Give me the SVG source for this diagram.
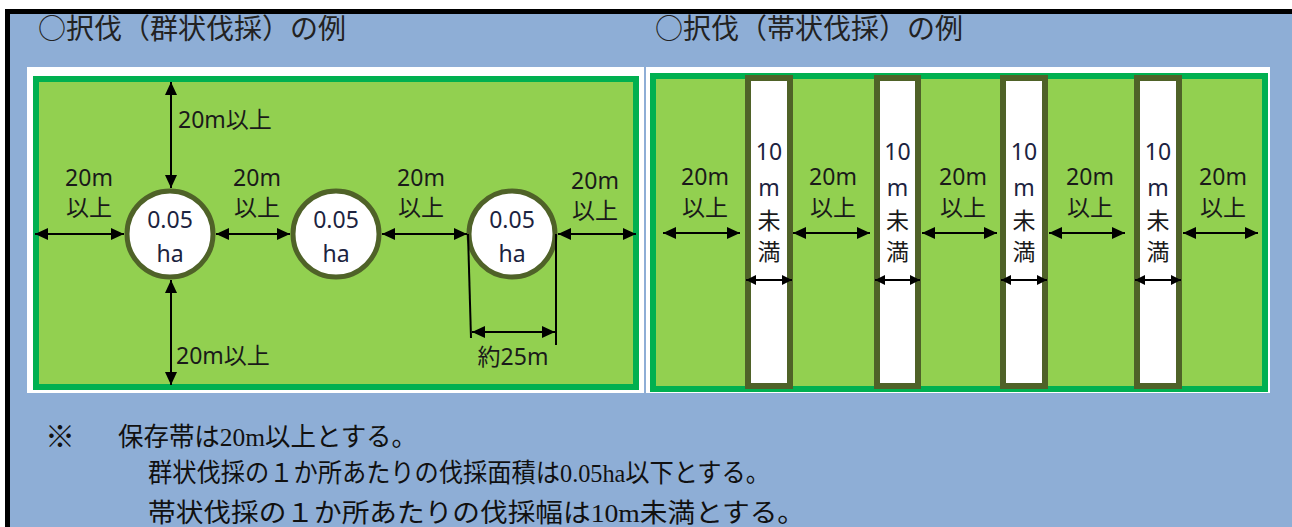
<svg xmlns="http://www.w3.org/2000/svg" width="1292" height="527" viewBox="0 0 1292 527">
<style>
.hdr{font-family:"Noto Sans CJK JP","Noto Sans",sans-serif;font-size:28px;fill:#222}
.lbl{font-family:"Noto Sans","Noto Sans CJK JP",sans-serif;font-size:23px;fill:#1a1a1a;text-anchor:middle}
.lbs{font-family:"Noto Sans","Noto Sans CJK JP",sans-serif;font-size:23px;fill:#1a1a1a}
.num{font-family:"Noto Sans","Noto Sans CJK JP",sans-serif;font-size:23px;fill:#1c2340;text-anchor:middle}
.note{font-family:"Liberation Serif","Noto Sans CJK JP",serif;font-size:26px;fill:#111}
.field{fill:#92d050;stroke:#00b050;stroke-width:6}
.cut{fill:#ffffff;stroke:#4f6228;stroke-width:5}
.strip{fill:#ffffff;stroke:#4f6228;stroke-width:6}
.arr{stroke:#000;stroke-width:2;fill:none;marker-start:url(#ah);marker-end:url(#ah)}
.arrs{stroke:#000;stroke-width:2;fill:none;marker-start:url(#ahs);marker-end:url(#ahs)}
.dim{stroke:#000;stroke-width:2;fill:none}
</style>
<defs>
<marker id="ah" viewBox="0 0 13 12" refX="13" refY="6" markerWidth="13" markerHeight="12" orient="auto-start-reverse" markerUnits="userSpaceOnUse"><path d="M0,0 L13,6 L0,12 z" fill="#000"/></marker>
<marker id="ahs" viewBox="0 0 10 10" refX="10" refY="5" markerWidth="10" markerHeight="10" orient="auto-start-reverse" markerUnits="userSpaceOnUse"><path d="M0,0 L10,5 L0,10 z" fill="#000"/></marker>
</defs>
<rect x="0" y="0" width="1292" height="527" fill="#ffffff"/>
<rect id="frame" x="7.5" y="11.5" width="1300" height="530" fill="#8eaed6" stroke="#000" stroke-width="5"/>

<g id="header-left"><text class="hdr" x="38" y="39">○択伐（群状伐採）の例</text></g>
<g id="header-right"><text class="hdr" x="655" y="39">○択伐（帯状伐採）の例</text></g>

<g id="panel-left">
<rect x="27" y="67" width="617" height="326" fill="#ffffff"/>
<rect class="field" x="36" y="79" width="600" height="308"/>
</g>
<g id="panel-right">
<rect x="646" y="67" width="624" height="326" fill="#ffffff"/>
<rect class="field" x="653" y="76" width="612" height="313"/>
</g>

<g id="cut1"><circle class="cut" cx="170" cy="234" r="43"/><text class="num" x="170" y="228">0.05</text><text class="num" x="170" y="262">ha</text></g>
<g id="cut2"><circle class="cut" cx="336" cy="234" r="43"/><text class="num" x="336" y="228">0.05</text><text class="num" x="336" y="262">ha</text></g>
<g id="cut3"><circle class="cut" cx="512" cy="234" r="43"/><text class="num" x="512" y="228">0.05</text><text class="num" x="512" y="262">ha</text></g>

<g id="strip1"><rect class="strip" x="748" y="78" width="42" height="308"/></g>
<g id="strip2"><rect class="strip" x="877" y="78" width="41" height="308"/></g>
<g id="strip3"><rect class="strip" x="1003" y="78" width="42" height="308"/></g>
<g id="strip4"><rect class="strip" x="1137" y="78" width="42" height="308"/></g>

<g id="connectors">
<line class="arr" x1="35" y1="234" x2="124" y2="234"/>
<line class="arr" x1="216" y1="234" x2="290" y2="234"/>
<line class="arr" x1="382" y1="234" x2="467" y2="234"/>
<line class="arr" x1="558" y1="234" x2="636" y2="234"/>
<line class="arr" x1="171" y1="82" x2="171" y2="188"/>
<line class="arr" x1="171" y1="280" x2="171" y2="385"/>
<line class="dim" x1="468" y1="234" x2="471" y2="338"/>
<line class="dim" x1="556" y1="234" x2="556" y2="345"/>
<line class="arr" x1="472" y1="332" x2="555" y2="332"/>
<line class="arr" x1="663" y1="233" x2="740" y2="233"/>
<line class="arr" x1="793" y1="233" x2="870" y2="233"/>
<line class="arr" x1="922" y1="233" x2="997" y2="233"/>
<line class="arr" x1="1049" y1="233" x2="1125" y2="233"/>
<line class="arr" x1="1183" y1="233" x2="1258" y2="233"/>
<line class="arrs" x1="746" y1="280" x2="792" y2="280"/>
<line class="arrs" x1="875" y1="280" x2="920" y2="280"/>
<line class="arrs" x1="1001" y1="280" x2="1047" y2="280"/>
<line class="arrs" x1="1135" y1="280" x2="1181" y2="280"/>
</g>

<g id="labels-left">
<text class="lbs" x="178" y="128">20m以上</text>
<text class="lbs" x="176" y="364">20m以上</text>
<text class="lbl" x="89" y="186">20m</text><text class="lbl" x="89" y="216">以上</text>
<text class="lbl" x="257" y="186">20m</text><text class="lbl" x="257" y="216">以上</text>
<text class="lbl" x="421" y="186">20m</text><text class="lbl" x="421" y="216">以上</text>
<text class="lbl" x="595" y="189">20m</text><text class="lbl" x="595" y="219">以上</text>
<text class="lbl" x="513" y="365">約25m</text>
</g>

<g id="labels-right">
<text class="lbl" x="705" y="185">20m</text><text class="lbl" x="705" y="216">以上</text>
<text class="lbl" x="833" y="185">20m</text><text class="lbl" x="833" y="216">以上</text>
<text class="lbl" x="963" y="185">20m</text><text class="lbl" x="963" y="216">以上</text>
<text class="lbl" x="1090" y="185">20m</text><text class="lbl" x="1090" y="216">以上</text>
<text class="lbl" x="1223" y="185">20m</text><text class="lbl" x="1223" y="216">以上</text>
<text class="num" x="769" y="160">10</text><text class="num" x="769" y="196">m</text><text class="lbl" x="769" y="229">未</text><text class="lbl" x="769" y="260">満</text>
<text class="num" x="897.5" y="160">10</text><text class="num" x="897.5" y="196">m</text><text class="lbl" x="897.5" y="229">未</text><text class="lbl" x="897.5" y="260">満</text>
<text class="num" x="1024" y="160">10</text><text class="num" x="1024" y="196">m</text><text class="lbl" x="1024" y="229">未</text><text class="lbl" x="1024" y="260">満</text>
<text class="num" x="1158" y="160">10</text><text class="num" x="1158" y="196">m</text><text class="lbl" x="1158" y="229">未</text><text class="lbl" x="1158" y="260">満</text>
</g>

<g id="notes">
<text class="note" x="45" y="447" style="font-size:30px">※</text>
<text class="note" x="118" y="446" textLength="299" lengthAdjust="spacingAndGlyphs">保存帯は20m以上とする。</text>
<text class="note" x="148" y="482" textLength="622" lengthAdjust="spacingAndGlyphs">群状伐採の１か所あたりの伐採面積は0.05ha以下とする。</text>
<text class="note" x="148" y="522" textLength="657" lengthAdjust="spacingAndGlyphs">帯状伐採の１か所あたりの伐採幅は10m未満とする。</text>
</g>
</svg>
